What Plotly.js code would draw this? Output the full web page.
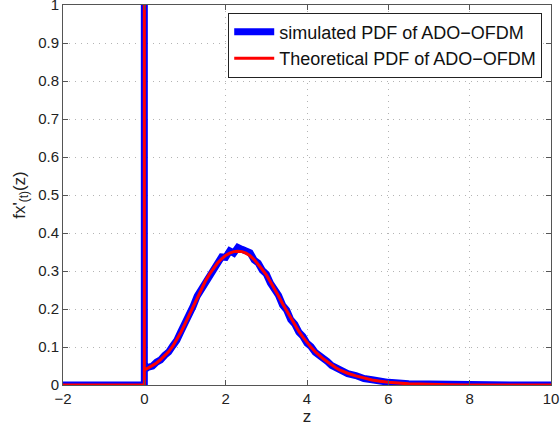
<!DOCTYPE html>
<html>
<head>
<meta charset="utf-8">
<script src="https://cdn.plot.ly/plotly-3.0.1.min.js"></script>
<style>html,body{margin:0;padding:0;background:#fff;}#chart{width:560px;height:432px;}</style>
</head>
<body>
<div id="chart"></div>
<script>
// z values (spike at z=0 then curve)
const zValues = [-2, 0, 0, 0,
  0.1,0.2,0.3,0.4,0.5,0.6,0.7,0.8,0.9,1.0,
  1.1,1.2,1.3,1.4,1.5,1.6,1.7,1.8,1.9,2.0,
  2.1,2.2,2.3,2.4,2.5,2.6,2.7,2.8,2.9,3.0,
  3.1,3.2,3.3,3.4,3.5,3.6,3.7,3.8,3.9,4.0,
  4.1,4.2,4.3,4.4,4.5,4.6,4.7,4.8,4.9,5.0,
  5.2,5.4,5.6,5.8,6.0,6.5,7.0,7.5,8.0,9.0,10.0];

const theoreticalPdf = [0, 0, 5, 0.040,
  0.045,0.051,0.058,0.067,0.077,0.088,0.102,0.119,0.139,0.161,
  0.184,0.208,0.231,0.253,0.273,0.291,0.307,0.321,0.332,0.341,
  0.347,0.351,0.352,0.351,0.347,0.340,0.330,0.318,0.304,0.290,
  0.272,0.253,0.234,0.214,0.195,0.175,0.158,0.141,0.126,0.112,
  0.099,0.088,0.078,0.069,0.061,0.053,0.046,0.040,0.035,0.031,
  0.024,0.018,0.013,0.010,0.007,0.003,0.0012,0.0005,0.0002,0,0];

const simulatedPdf = [0, 0, 5, 0.040,
  0.047,0.050,0.060,0.066,0.078,0.087,0.103,0.118,0.141,0.160,
  0.186,0.207,0.234,0.251,0.276,0.289,0.310,0.319,0.337,0.336,
  0.353,0.347,0.362,0.357,0.353,0.348,0.329,0.321,0.302,0.292,
  0.268,0.251,0.236,0.210,0.197,0.172,0.160,0.139,0.128,0.110,
  0.101,0.086,0.079,0.068,0.062,0.052,0.047,0.039,0.036,0.030,
  0.025,0.017,0.014,0.009,0.007,0.003,0.0015,0.0005,0.0002,0,0];

const xTicks = [-2,0,2,4,6,8,10];
const yTicks = [0,0.1,0.2,0.3,0.4,0.5,0.6,0.7,0.8,0.9,1];
const yTickText = ['0','0.1','0.2','0.3','0.4','0.5','0.6','0.7','0.8','0.9','1'];
const xTickText = ['\u22122','0','2','4','6','8','10'];

const font = 'Liberation Sans, Arial, Helvetica, sans-serif';

const traces = [
  {x: zValues, y: simulatedPdf, mode: 'lines', name: 'simulated PDF of ADO\u2212OFDM',
   line: {color: '#0000ff', width: 7}},
  {x: zValues, y: theoreticalPdf, mode: 'lines', name: 'Theoretical PDF of ADO\u2212OFDM',
   line: {color: '#ff0000', width: 3}}
];

const axisCommon = {
  showline: true, linecolor: '#555', linewidth: 1, mirror: 'ticks',
  ticks: 'inside', ticklen: 5, tickcolor: '#555',
  showgrid: true, gridcolor: '#b4b4b4', griddash: '1px,5px', gridwidth: 1,
  zeroline: false, ticklabeloverflow: 'allow',
  tickfont: {family: font, size: 15, color: '#222'}
};

const layout = {
  width: 560, height: 432,
  margin: {l: 63, r: 9, t: 5, b: 47},
  paper_bgcolor: '#fff', plot_bgcolor: '#fff',
  showlegend: true,
  legend: {x: 0.982, y: 0.98, xanchor: 'right', yanchor: 'top',
    bgcolor: '#fff', bordercolor: '#222', borderwidth: 1,
    font: {family: font, size: 18, color: '#111'}, itemwidth: 40,
    tracegroupgap: 0},
  xaxis: Object.assign({}, axisCommon, {range: [-2, 10], tickvals: xTicks, ticktext: xTickText,
    title: {text: 'z', font: {family: font, size: 17, color: '#222'}, standoff: 4}}),
  yaxis: Object.assign({}, axisCommon, {range: [0, 1], tickvals: yTicks, ticktext: yTickText,
    title: {text: "fx'<sub>(t)</sub>(z)", font: {family: font, size: 17, color: '#222'}, standoff: 8}})
};

Plotly.newPlot('chart', traces, layout, {displayModeBar: false, staticPlot: true});
</script>
</body>
</html>
